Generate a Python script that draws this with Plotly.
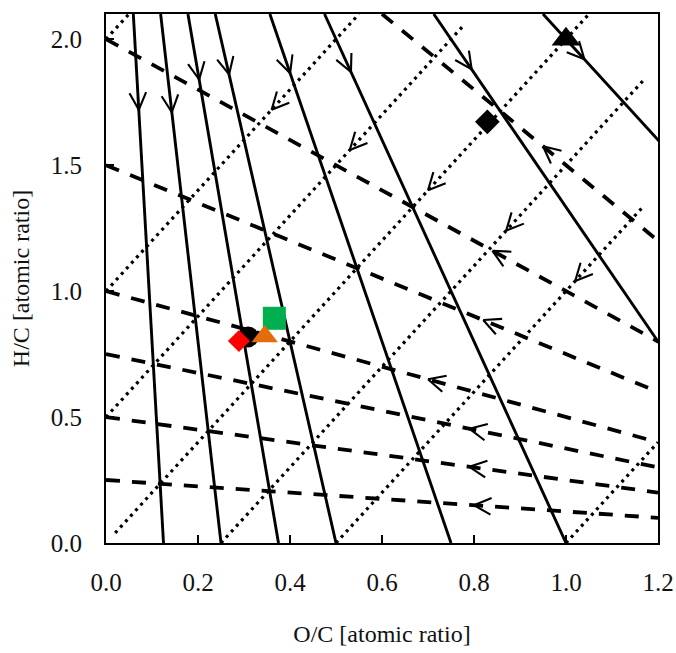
import math
import plotly.graph_objects as go

# ---- chart data -------------------------------------------------------------
# Axis extents (O/C on x, H/C on y)
OC_MAX = 1.2
HC_MAX = 2.1

# Demethanation lines: all pass through (O/C, H/C) = (0, 4); listed by O/C at H/C = 0
demethanation_oc0 = [0.125, 0.25, 0.375, 0.5, 0.75, 1.0, 1.5, 2.0]
demethanation_arrow_hc = [1.72, 1.71, 1.84, 1.86, 1.865, 1.87, 1.88, 1.92]

# Decarboxylation lines: all pass through (2, 0); listed by H/C at O/C = 0
decarboxylation_hc0 = [3.0, 2.0, 1.5, 1.0, 0.75, 0.5, 0.25]
decarboxylation_arrow_oc = [0.95, 0.84, 0.82, 0.70, 0.79, 0.79, 0.80]

# Dehydration lines: H/C = 2 * (O/C - offset), drawn between a start and end O/C
dehydration_offset = [-1.0, -0.5, -0.25, 0.0, 0.25, 0.5, 1.0]
dehydration_start_oc = [0.0, 0.0, 0.0, 0.02, 0.25, 0.5, 1.0]
dehydration_end_oc = [0.05, 0.55, 0.78, 1.05, 1.17, 1.17, 1.2]
dehydration_arrow_oc = [None, 0.36, 0.53, 0.70, 0.87, 1.02, None]

# Samples
samples = [
    # name, O/C, H/C, symbol, size, colour
    ("circle", 0.309, 0.818, "circle", 21, "#000000"),
    ("square", 0.366, 0.892, "square", 23, "#00B050"),
    ("diamond-red", 0.289, 0.802, "diamond", 17, "#FF0000"),
    ("triangle-orange", 0.345, 0.82, "triangle-up", 23, "#E46C0A"),
    ("diamond-black", 0.829, 1.672, "diamond", 19, "#000000"),
    ("triangle-black", 1.0, 2.0, "triangle-up", 25, "#000000"),
]

# ---- layout geometry ---------------------------------------------------------
W, H = 676, 653
M_L, M_R, M_T, M_B = 106, 18, 14, 110
SX = (W - M_L - M_R) / OC_MAX      # px per unit O/C
SY = (H - M_T - M_B) / HC_MAX      # px per unit H/C

FONT = "Liberation Serif, Times New Roman, serif"

BARB_LEN = 19.0     # px
BARB_ANGLE = math.radians(26)


def arrow_barbs(tips, dirs):
    """Open V arrowheads: tips in data units, dirs = pointing direction in data units."""
    xs, ys = [], []
    for (tx, ty), (dx, dy) in zip(tips, dirs):
        px, py = dx * SX, dy * SY
        n = math.hypot(px, py)
        bx, by = -px / n, -py / n
        for s in (1, -1):
            c, sn = math.cos(s * BARB_ANGLE), math.sin(s * BARB_ANGLE)
            rx, ry = bx * c - by * sn, bx * sn + by * c
            xs.append(tx + rx * BARB_LEN / SX)
            ys.append(ty + ry * BARB_LEN / SY)
            xs.append(tx)
            ys.append(ty)
            xs.append(None)
            ys.append(None)
    return xs, ys


fig = go.Figure()

# Demethanation (solid)
dm_x, dm_y, dm_tips, dm_dirs = [], [], [], []
for b, ah in zip(demethanation_oc0, demethanation_arrow_hc):
    top_oc = b * (1 - HC_MAX / 4.0)
    dm_x += [top_oc, b, None]
    dm_y += [HC_MAX, 0.0, None]
    dm_tips.append((b * (1 - ah / 4.0), ah))
    dm_dirs.append((b, -4.0))
fig.add_trace(go.Scatter(x=dm_x, y=dm_y, mode="lines",
                         line=dict(color="black", width=2.9), hoverinfo="skip"))

# Decarboxylation (dashed)
dc_tips, dc_dirs = [], []
for h0, ao in zip(decarboxylation_hc0, decarboxylation_arrow_oc):
    if h0 > HC_MAX:
        x0 = 2.0 * (1 - HC_MAX / h0)
    else:
        x0 = 0.0
    fig.add_trace(go.Scatter(
        x=[x0, OC_MAX], y=[h0 * (1 - x0 / 2.0), h0 * (1 - OC_MAX / 2.0)],
        mode="lines", line=dict(color="black", width=3.8, dash="14px,12px"),
        hoverinfo="skip"))
    dc_tips.append((ao, h0 * (1 - ao / 2.0)))
    dc_dirs.append((-2.0, h0))

# Dehydration (dotted)
dh_tips, dh_dirs = [], []
for c, s, e, ao in zip(dehydration_offset, dehydration_start_oc,
                       dehydration_end_oc, dehydration_arrow_oc):
    fig.add_trace(go.Scatter(
        x=[s, e], y=[2 * (s - c), 2 * (e - c)],
        mode="lines", line=dict(color="black", width=3.2, dash="3px,4.5px"),
        hoverinfo="skip"))
    if ao is not None:
        dh_tips.append((ao, 2 * (ao - c)))
        dh_dirs.append((-1.0, -2.0))

ax_, ay_ = arrow_barbs(dm_tips + dc_tips + dh_tips, dm_dirs + dc_dirs + dh_dirs)
fig.add_trace(go.Scatter(x=ax_, y=ay_, mode="lines",
                         line=dict(color="black", width=2.1), hoverinfo="skip"))

# Sample markers
for name, xo, yh, sym, size, col in samples:
    fig.add_trace(go.Scatter(x=[xo], y=[yh], mode="markers", name=name,
                             marker=dict(symbol=sym, size=size, color=col,
                                         line=dict(width=0)),
                             cliponaxis=False))

axis_common = dict(
    showgrid=False, zeroline=False, showline=True, linecolor="black",
    linewidth=2, mirror=True, ticks="inside", ticklen=8, tickwidth=1.5,
    tickcolor="black", tickformat=".1f", automargin=False,
    tickfont=dict(family=FONT, size=25, color="#111111"),
)

fig.update_layout(
    width=W, height=H,
    margin=dict(l=M_L, r=M_R, t=M_T, b=M_B),
    paper_bgcolor="white", plot_bgcolor="white",
    showlegend=False,
    font=dict(family=FONT, color="black"),
    xaxis=dict(range=[0, OC_MAX], tick0=0, dtick=0.2, ticklabelstandoff=16,
               title=dict(text="O/C [atomic ratio]", standoff=30,
                          font=dict(family=FONT, size=24, color="#111111")),
               **axis_common),
    yaxis=dict(range=[0, HC_MAX], tick0=0, dtick=0.5, ticklabelstandoff=17,
               title=dict(text="H/C [atomic ratio]", standoff=14,
                          font=dict(family=FONT, size=24, color="#111111")),
               **axis_common),
)

fig.write_html("out.html")
